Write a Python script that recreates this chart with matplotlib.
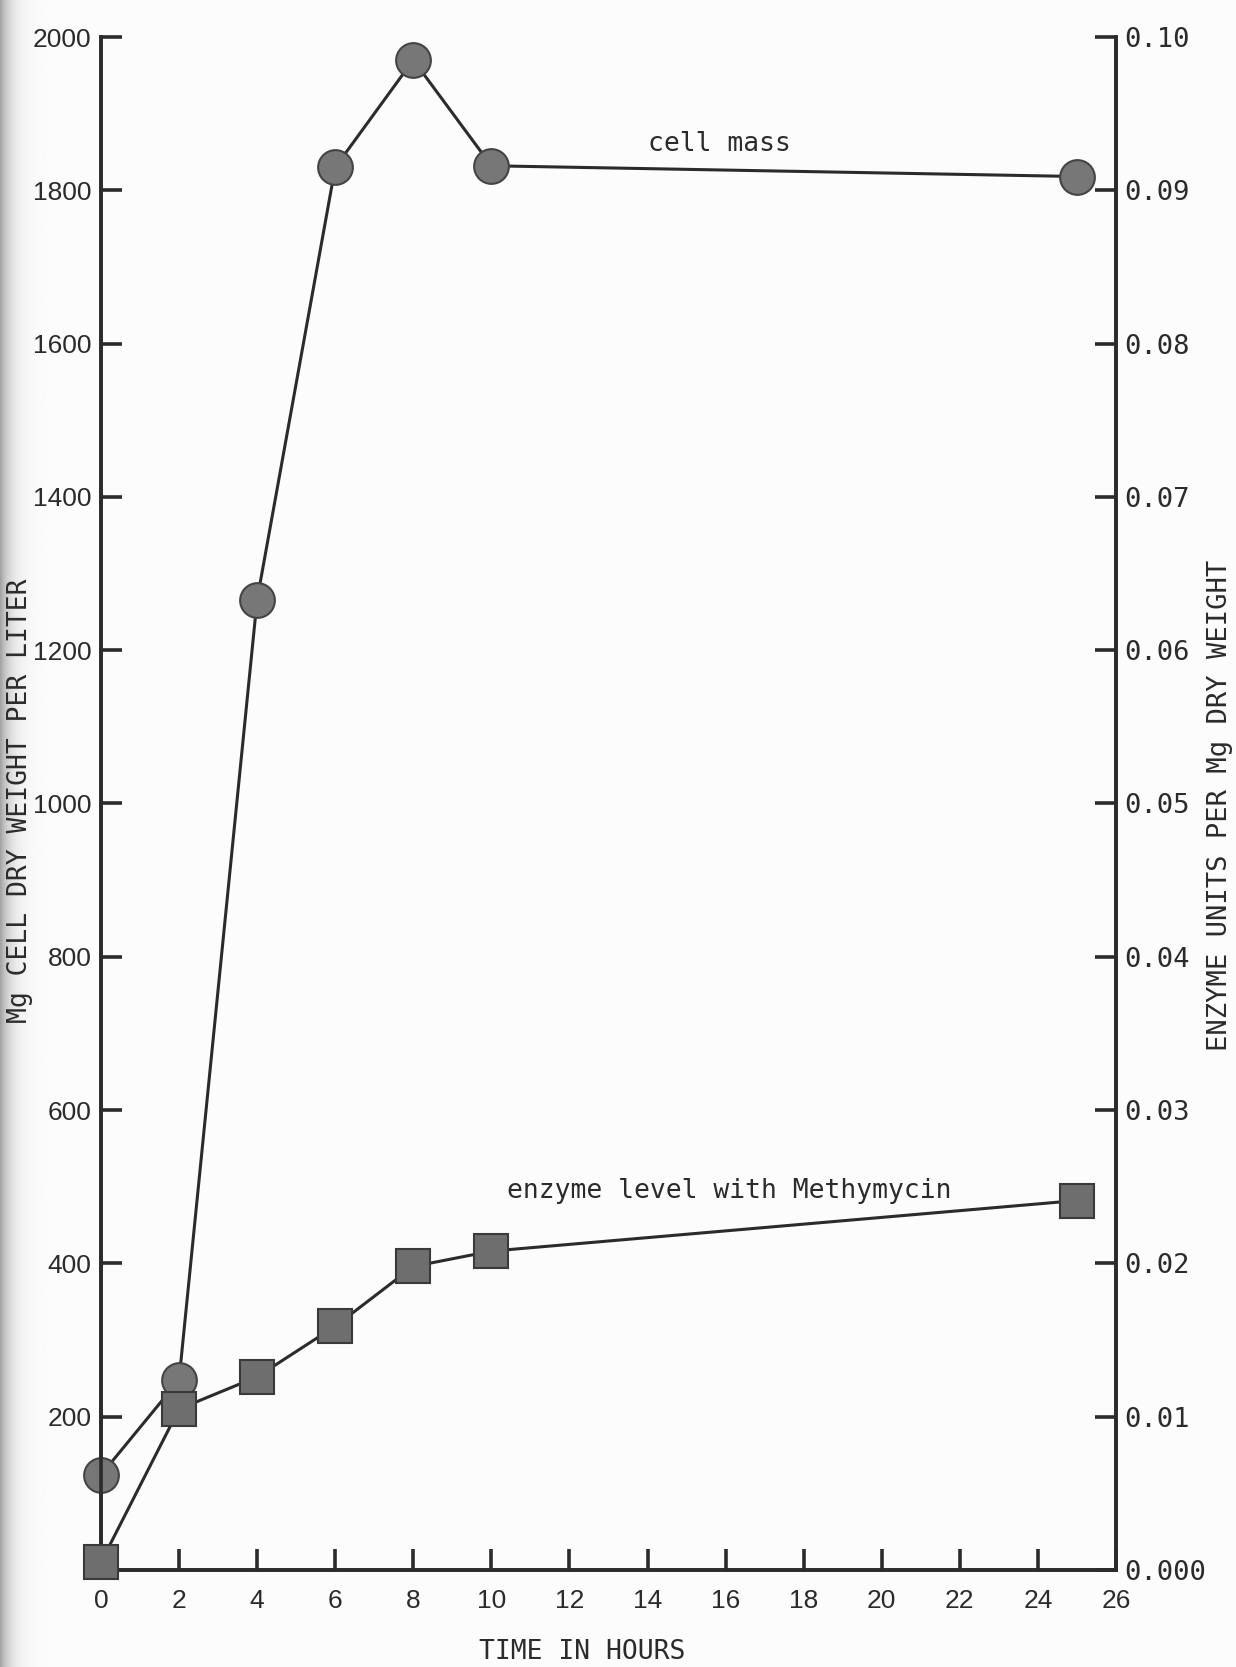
#!/usr/bin/env python3
import numpy as np
import matplotlib
matplotlib.use("Agg")
import matplotlib.pyplot as plt

# sampling times (hours)
hours = [0, 2, 4, 6, 8, 10, 25]
# Mg cell dry weight per liter (left axis)
cell_mass = [124, 248, 1266, 1830, 1970, 1832, 1818]
# enzyme units per Mg dry weight (right axis)
enzyme = [0.0005, 0.0105, 0.0126, 0.0159, 0.0198, 0.0208, 0.0241]

x_ticks = list(range(0, 27, 2))
left_ticks = [200, 400, 600, 800, 1000, 1200, 1400, 1600, 1800, 2000]
right_ticks = [0.0, 0.01, 0.02, 0.03, 0.04, 0.05, 0.06, 0.07, 0.08, 0.09, 0.10]
right_labels = ["0.000", "0.01", "0.02", "0.03", "0.04", "0.05",
                "0.06", "0.07", "0.08", "0.09", "0.10"]

ink = "#2b2b2b"
mono = "DejaVu Sans Mono"
sans = ["Liberation Sans", "DejaVu Sans"]
paper = "#fcfcfc"

fig = plt.figure(figsize=(12.36, 16.67), dpi=100)
fig.patch.set_facecolor(paper)

# shadow of the scanned page along the left edge
shade = fig.add_axes([0, 0, 0.04, 1], zorder=-5)
grad = 0.988 - 0.36 * np.exp(-np.linspace(0, 5, 128))
shade.imshow(grad[None, :], aspect="auto", cmap="gray", vmin=0, vmax=1,
             extent=(0, 1, 0, 1), interpolation="bilinear")
shade.axis("off")

ax = fig.add_axes([0.0817, 0.0582, 0.8212, 0.9196])
ax.patch.set_alpha(0)
ax2 = ax.twinx()

ax.plot(hours, cell_mass, "-o", color=ink, lw=2.2, ms=25,
        mfc="#777777", mec="#444444", mew=1.5, zorder=3, clip_on=False)
ax2.plot(hours, enzyme, "-s", color=ink, lw=2.2, ms=24,
         mfc="#6e6e6e", mec="#3a3a3a", mew=1.5, zorder=3, clip_on=False)

ax.set_xlim(0, 26)
ax.set_ylim(0, 2000)
ax2.set_ylim(0, 0.10)

for a in (ax, ax2):
    a.spines["top"].set_visible(False)
    for s in ("left", "right", "bottom"):
        a.spines[s].set_linewidth(2.6)
        a.spines[s].set_color(ink)

ax.set_xticks(x_ticks)
ax.set_xticklabels([str(t) for t in x_ticks], family=sans, fontsize=19, color=ink)
ax.set_yticks(left_ticks)
ax.set_yticklabels([str(v) for v in left_ticks], family=sans, fontsize=19, color=ink)
ax.tick_params(axis="both", direction="in", length=15, width=2.6, color=ink)
ax.tick_params(axis="x", pad=14)
ax.tick_params(axis="y", pad=7)

ax2.set_yticks(right_ticks)
ax2.set_yticklabels(right_labels, family=mono, fontsize=19.5, color=ink)
ax2.tick_params(axis="y", direction="in", length=15, width=2.6, color=ink, pad=6)

ax.set_xlabel("TIME IN HOURS", family=mono, fontsize=19, color=ink,
              va="center", ha="center")
ax.xaxis.set_label_coords(0.474, -0.0535)
ax.set_ylabel("Mg CELL DRY WEIGHT PER LITER", family=mono, fontsize=19,
              color=ink, va="center", ha="center")
ax.yaxis.set_label_coords(-0.080, 0.502)
ax2.set_ylabel("ENZYME UNITS PER Mg DRY WEIGHT", family=mono, fontsize=19.5,
               color=ink, rotation=90, va="center", ha="center")
ax2.yaxis.set_label_coords(1.102, 0.499)

ax.text(15.85, 1860, "cell mass", family=mono, fontsize=19, color=ink,
        ha="center", va="center")
ax2.text(16.1, 0.0247, "enzyme level with Methymycin", family=mono,
         fontsize=19, color=ink, ha="center", va="center")

fig.savefig("out.png", dpi=100, facecolor=fig.get_facecolor())
